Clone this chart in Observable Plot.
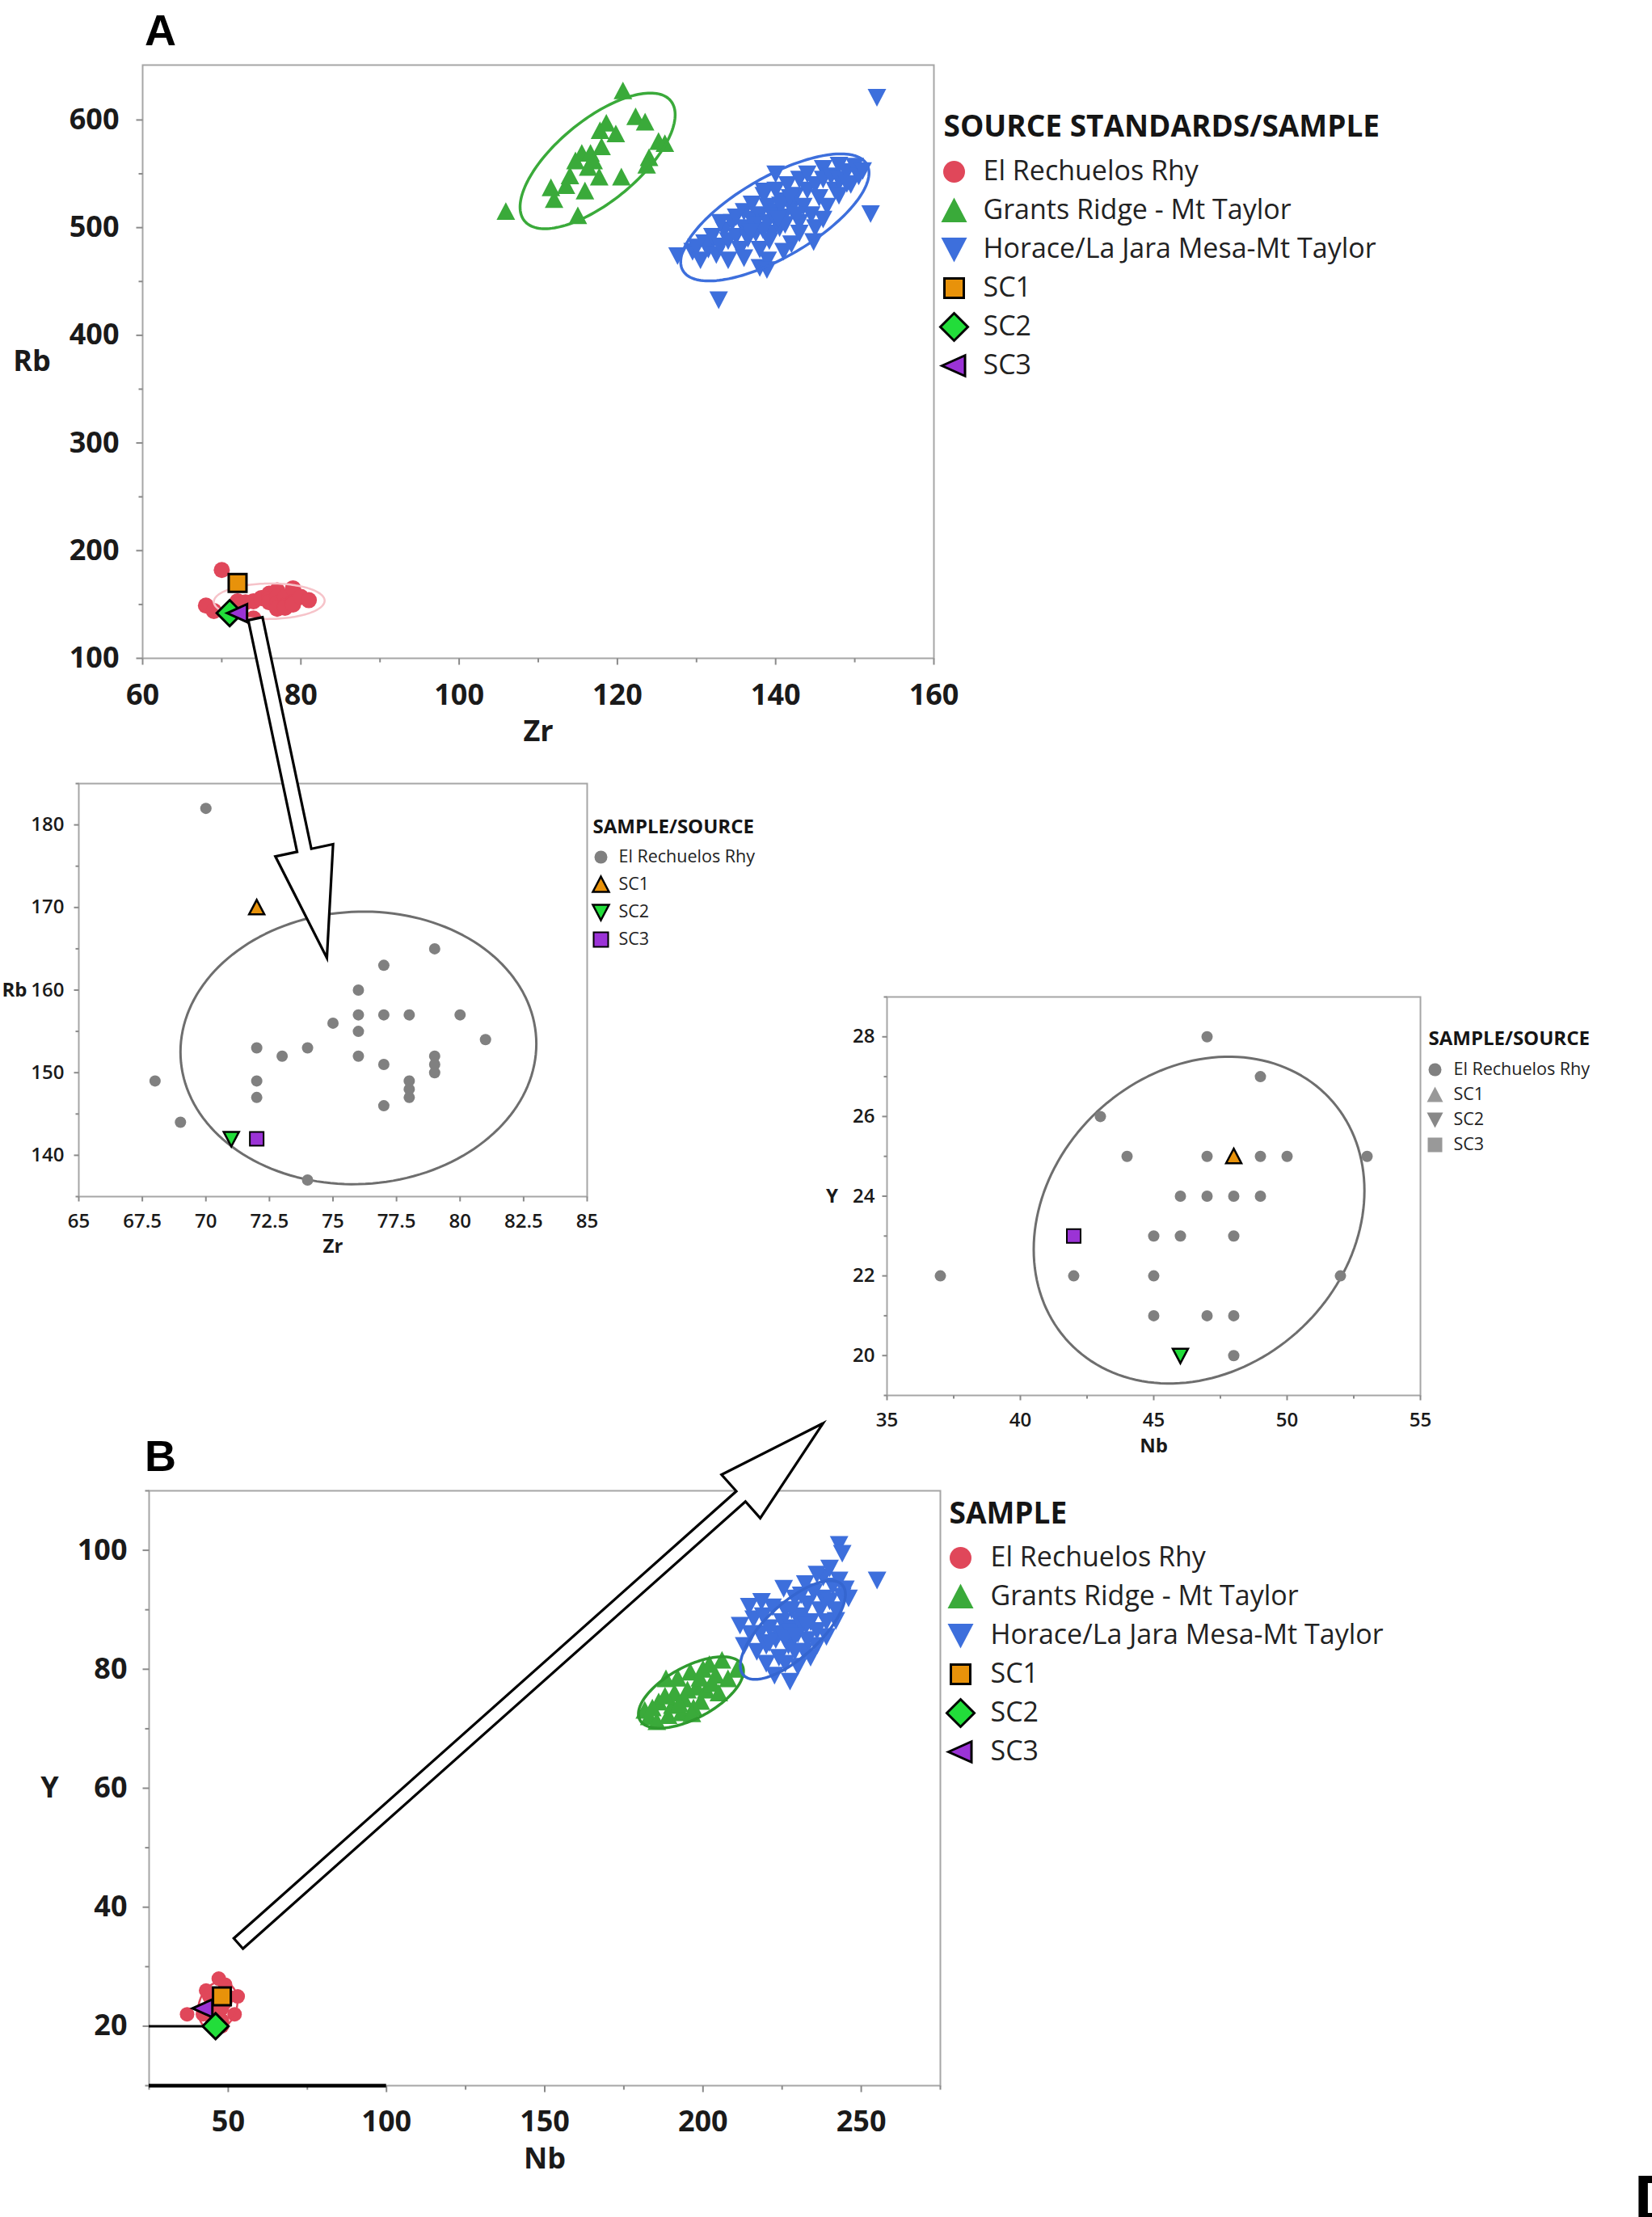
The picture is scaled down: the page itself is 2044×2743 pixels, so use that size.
<!DOCTYPE html>
<html><head><meta charset="utf-8">
<script src="https://cdn.jsdelivr.net/npm/d3@7"></script>
<script src="https://cdn.jsdelivr.net/npm/@observablehq/plot@0.6"></script>
<style>
html,body{margin:0;padding:0;background:#fff;}
#page{position:relative;width:2044px;height:2743px;overflow:hidden;background:#fff;}
.abs{position:absolute;line-height:0;}
.abs svg{overflow:visible;}
.plabel{position:absolute;font-family:'Liberation Sans',Arial,sans-serif;font-weight:bold;line-height:1;color:#000;white-space:nowrap;}
</style></head><body><div id="page"></div>
<script>
// ---------------- DATA ----------------
// Panel A / inset 1 : Zr (ppm) vs Rb (ppm)
const erZrRb = [[70,182],[68,149],[69,144],[72,153],[72,149],[72,147],[73,152],[74,153],[75,156],[76,160],[76,157],[76,155],[76,152],[77,163],[77,157],[77,151],[77,146],[78,157],[78,149],[78,148],[78,147],[79,165],[79,152],[79,151],[79,150],[80,157],[81,154],[74,137]];
const grantsZrRb = [[105.9,515],[120.7,627],[122.3,603],[123.5,598],[117.8,590],[119.8,587],[115.5,569],[117,562],[114.7,562],[116.3,556],[117.7,547],[111.6,537],[112,526],[115.9,534],[115,511],[120.5,547],[124,565],[125.2,580],[126,578],[123.7,558],[113.5,539],[118.6,597],[116.6,569],[118,575],[114,548]];
const horaceZrRb = [[152.8,621],[152,513],[132.8,433],[127.6,474],[129.5,478],[130.5,470],[131,486],[131.5,480],[132,492],[132.5,475],[133,483],[133.5,498],[134,488],[134,470],[134.5,505],[135,492],[135.5,480],[136,500],[136,515],[136.5,490],[137,508],[137,522],[137.5,495],[138,512],[138,480],[138.5,530],[139,505],[139,520],[139.5,495],[140,515],[140,535],[140.5,500],[141,525],[141,510],[141.5,540],[142,518],[142,485],[142.5,530],[143,545],[143,505],[143.5,520],[144,535],[144,550],[144.5,512],[145,540],[145.5,528],[146,555],[146,545],[146.5,520],[147,548],[147.5,535],[148,558],[148,545],[149,552],[149.5,540],[150,557],[150.5,548],[151,553],[138,463],[139,470],[141,478],[143,495],[145,500],[135,510],[133,505],[146,508],[148,530],[140,550],[138.9,461],[144.8,487],[149,541],[138.5,534],[130,482],[136,472],[137.3,503],[139.7,511],[141.2,503],[138.4,498],[140.6,521],[142.7,512],[136.8,496],[139.2,488],[140.3,508],[141.8,528]];
const sc1ZrRb = [[72,170]];
const sc2ZrRb = [[71,142]];
const sc3ZrRb = [[72,142]];

// Panel B / inset 2 : Nb (ppm) vs Y (ppm)
const erNbY = [[47,28],[49,27],[43,26],[44,25],[47,25],[49,25],[50,25],[53,25],[46,24],[47,24],[48,24],[49,24],[45,23],[46,23],[48,23],[37,22],[42,22],[45,22],[52,22],[45,21],[47,21],[48,21],[48,20]];
const grantsNbY = [[181.6,73.1],[183,72],[185.4,71.2],[186,74.5],[188.3,78.4],[189,72.2],[190.3,73.9],[191,76],[192,78.5],[193.2,72.7],[194,75],[195.1,76.5],[196,79.5],[197,73.5],[198,77],[199.3,74.6],[200,80],[201,76.5],[202,80.8],[202.9,77.6],[204,79],[205,76],[206,81.5],[207.9,78.4],[210.8,80],[188,75.5],[192.5,74.2],[196.5,72.5],[184,73.5],[199,78.5]];
const horaceNbY = [[243,101],[244,99.5],[255,95],[227.5,78],[222.6,79],[211.7,87.4],[214.6,90.6],[218.5,91.4],[238,95.5],[232.3,94.4],[225.5,93.6],[244,92.3],[242,88.2],[236,84],[213,84],[215,86],[216,88.5],[217,83],[218,86],[219,89],[220,84],[221,87],[222,90.5],[223,85],[224,82],[225,88],[226,90],[227,84],[228,87],[229,92],[230,86],[231,89],[232,83],[233,91],[234,88],[235,93],[236,86.5],[237,90],[238,92],[239,88],[240,91.5],[241,94],[242,90],[243,95],[245,93.5],[246,92],[233,85],[226,81],[220,81],[230,80.5],[224,86],[228,90],[234,82],[229,83],[239,85.5],[221,84.5],[231,92.5],[236,96],[240,97],[227.6,86.3],[230.4,88.1],[225.8,85.2],[232.6,87.4],[229.1,85.6]];
const sc1NbY = [[48,25]];
const sc2NbY = [[46,20]];
const sc3NbY = [[42,23]];

// density ellipses: centre, half-extent in x and y, correlation
const ellA = {grants:{cx:117.5,cy:562,ax:9.8,ay:63,rho:0.68}, horace:{cx:139.9,cy:509.5,ax:11.9,ay:59,rho:0.7}, er:{cx:76,cy:153,ax:7,ay:16.5,rho:0.03}};
const ellB = {grants:{cx:196.2,cy:76.1,ax:16.6,ay:6,rho:0.6}, horace:{cx:228.4,cy:86.6,ax:16.6,ay:8.3,rho:0.72}, er:{cx:46.7,cy:23.4,ax:6.2,ay:4.1,rho:0.18}};

// axes
const aXTicks = [60,80,100,120,140,160], aXMinor = [70,90,110,130,150];
const aYTicks = [100,200,300,400,500,600], aYMinor = [150,250,350,450,550];
const i1XTicks = [65,67.5,70,72.5,75,77.5,80,82.5,85], i1XMinor = [];
const i1YTicks = [140,150,160,170,180], i1YMinor = [135,145,155,165,175,185];
const i2XTicks = [35,40,45,50,55], i2XMinor = [37.5,42.5,47.5,52.5];
const i2YTicks = [20,22,24,26,28], i2YMinor = [19,21,23,25,27,29];
const bXTicks = [50,100,150,200,250], bXMinor = [25,75,125,175,225,275];
const bYTicks = [20,40,60,80,100], bYMinor = [10,30,50,70,90,110];

const seriesNames = ["El Rechuelos Rhy","Grants Ridge - Mt Taylor","Horace/La Jara Mesa-Mt Taylor","SC1","SC2","SC3"];
const insetNames = ["El Rechuelos Rhy","SC1","SC2","SC3"];

// arrow annotations: tail in panel data, tip in inset data
const arrow1 = {tail:[74.25,136.8], tip:[74.76,163.9]};
const arrow2 = {tail:[53.2,33.9], tip:[32.6,18.3]};
// guide lines in panel B
const bGuides = [{x1:25,x2:44,y:20,w:3},{x1:25,x2:100,y:10,w:4.5}];

// ---------------- STYLE ----------------
const FONT = "'Open Sans', 'Noto Sans', sans-serif";
const RED="#e0475a", GREEN="#3aaa3a", BLUE="#3d6fdc", ORANGE="#e8920a", LGREEN="#22dd3a", PURPLE="#9b33d6", GRAY="#808080";
const FRAME_C="#a6a6a6", TICK_C="#8a8a8a";

const Rof = s => Math.sqrt(s/Math.PI);
const SYM = {
  circle:{draw(c,s){const r=Rof(s);c.moveTo(r,0);c.arc(0,0,r,0,2*Math.PI);c.closePath();}},
  square:{draw(c,s){const r=Rof(s);c.moveTo(-r,-r);c.lineTo(r,-r);c.lineTo(r,r);c.lineTo(-r,r);c.closePath();}},
  diamond:{draw(c,s){const r=Rof(s);c.moveTo(0,-r);c.lineTo(r,0);c.lineTo(0,r);c.lineTo(-r,0);c.closePath();}},
  triUp:{draw(c,s){const r=Rof(s);c.moveTo(0,-r);c.lineTo(r,0.9*r);c.lineTo(-r,0.9*r);c.closePath();}},
  triDown:{draw(c,s){const r=Rof(s);c.moveTo(0,r);c.lineTo(r,-0.9*r);c.lineTo(-r,-0.9*r);c.closePath();}},
  triLeft:{draw(c,s){const r=Rof(s);c.moveTo(-r,0);c.lineTo(0.9*r,-0.85*r);c.lineTo(0.9*r,0.85*r);c.closePath();}},
  tickDown:{draw(c,s){const r=Rof(s);c.moveTo(0,0);c.lineTo(0,r);}},
  tickLeft:{draw(c,s){const r=Rof(s);c.moveTo(0,0);c.lineTo(-r,0);}}
};

function ellipsePoints(e){
  const pts=[], n=160, s=Math.sqrt(1-e.rho*e.rho);
  for(let i=0;i<n;i++){const t=2*Math.PI*i/n;
    pts.push({x:e.cx+e.ax*Math.cos(t), y:e.cy+e.ay*(e.rho*Math.cos(t)+s*Math.sin(t))});}
  return pts;
}

const page = document.getElementById("page");
function place(el,left,top){const d=document.createElement("div");d.className="abs";d.style.left=left+"px";d.style.top=top+"px";d.appendChild(el);page.appendChild(d);return d;}
const baseStyle = {background:"transparent", maxWidth:"none", overflow:"visible", fontFamily:FONT};

function panel(cfg){
  const xd=cfg.xDomain, yd=cfg.yDomain;
  const tk = (vals,len,sym,isX)=>Plot.dot(vals,{x:isX?(d=>d):(()=>xd[0]), y:isX?(()=>yd[0]):(d=>d), symbol:sym, r:len, stroke:TICK_C, strokeWidth:2, fill:"none"});
  const marks=[
    Plot.frame({stroke:FRAME_C, strokeWidth:2}),
    tk(cfg.xMajor,cfg.tickLen,SYM.tickDown,true),
    tk(cfg.xMinor,cfg.minorLen,SYM.tickDown,true),
    tk(cfg.yMajor,cfg.tickLen,SYM.tickLeft,false),
    tk(cfg.yMinor,cfg.minorLen,SYM.tickLeft,false)
  ];
  for(const s of cfg.series){
    const o={x:d=>d[0], y:d=>d[1], symbol:s.symbol, r:s.r, fill:s.fill};
    if(s.stroke){o.stroke=s.stroke;o.strokeWidth=s.sw;o.strokeLinejoin="miter";}
    if(s.before) marks.push(...s.before);
    marks.push(Plot.dot(s.data,o));
    if(s.after) marks.push(...s.after);
  }
  if(cfg.extra) marks.push(...cfg.extra);
  marks.push(Plot.text([cfg.xLabel],{frameAnchor:"bottom", dy:cfg.xLabelDy, text:d=>d, fontSize:cfg.labelFont, fontWeight:"bold", lineAnchor:"middle", textAnchor:"middle", fill:"#1a1a1a"}));
  marks.push(Plot.text([cfg.yLabel],{frameAnchor:"left", dx:cfg.yLabelDx, text:d=>d, fontSize:cfg.labelFont, fontWeight:"bold", lineAnchor:"middle", textAnchor:cfg.yLabelAnchor||"middle", fill:"#1a1a1a"}));
  return Plot.plot({
    width:cfg.width, height:cfg.height,
    marginLeft:cfg.m[0], marginRight:cfg.m[1], marginTop:cfg.m[2], marginBottom:cfg.m[3],
    x:{domain:xd, ticks:cfg.xMajor, tickSize:0, tickPadding:cfg.xPad, tickFormat:d=>String(d), label:null},
    y:{domain:yd, ticks:cfg.yMajor, tickSize:0, tickPadding:cfg.yPad, tickFormat:d=>String(d), label:null},
    style:{...baseStyle, fontSize:cfg.tickFont+"px", fontWeight:cfg.tickWeight, color:"#1a1a1a"},
    marks
  });
}

function ellMark(e,color,w){return Plot.line(ellipsePoints(e),{x:"x",y:"y",curve:"linear-closed",stroke:color,strokeWidth:w});}

function legend(cfg){
  const labels=cfg.items.map(d=>d.label);
  const marks=[Plot.text([cfg.title],{frameAnchor:"top-left", dx:cfg.titleX, dy:cfg.titleY, text:d=>d, fontSize:cfg.titleSize, fontWeight:"bold", lineAnchor:"middle", textAnchor:"start", fill:"#151515"})];
  for(const it of cfg.items){
    const o={x:()=>0, y:d=>d, symbol:it.symbol, r:it.r, fill:it.fill};
    if(it.stroke){o.stroke=it.stroke;o.strokeWidth=it.sw;o.strokeLinejoin="miter";}
    marks.push(Plot.dot([it.label],o));
  }
  marks.push(Plot.text(labels,{x:()=>1, y:d=>d, text:d=>d, fontSize:cfg.fontSize, textAnchor:"start", lineAnchor:"middle", fill:"#222"}));
  return Plot.plot({width:cfg.width, height:cfg.height, margin:0,
    x:{domain:[0,1], range:[cfg.markerX,cfg.textX], axis:null},
    y:{type:"point", domain:labels, range:[cfg.firstY,cfg.lastY], padding:0, axis:null},
    style:{...baseStyle}, marks});
}

// ---------------- PANEL A ----------------
const posA=[0,0];
const plotA = panel({width:1160,height:940,m:[176,5,80,126], xDomain:[60,160], yDomain:[100,651],
  xMajor:aXTicks,xMinor:aXMinor,yMajor:aYTicks,yMinor:aYMinor, tickLen:8, minorLen:5, xPad:32, yPad:29,
  tickFont:36, tickWeight:"bold", labelFont:36, xLabel:"Zr", yLabel:"Rb", xLabelDy:91, yLabelDx:-137,
  series:[
    {data:erZrRb, symbol:SYM.circle, r:10, fill:RED, after:[ellMark(ellA.er,"#f6c3c9",2.5)]},
    {data:grantsZrRb, symbol:SYM.triUp, r:11.5, fill:GREEN, after:[ellMark(ellA.grants,GREEN,3.5)]},
    {data:horaceZrRb, symbol:SYM.triDown, r:11.5, fill:BLUE, after:[ellMark(ellA.horace,BLUE,3.5)]},
    {data:sc1ZrRb, symbol:SYM.square, r:11, fill:ORANGE, stroke:"#000", sw:3},
    {data:sc2ZrRb, symbol:SYM.diamond, r:16, fill:LGREEN, stroke:"#000", sw:3},
    {data:sc3ZrRb, symbol:SYM.triLeft, r:13, fill:PURPLE, stroke:"#000", sw:3}
  ]});
place(plotA,...posA);

const bigItems = ()=>[
  {label:seriesNames[0], symbol:SYM.circle, r:13.5, fill:RED},
  {label:seriesNames[1], symbol:SYM.triUp, r:16, fill:GREEN},
  {label:seriesNames[2], symbol:SYM.triDown, r:16, fill:BLUE},
  {label:seriesNames[3], symbol:SYM.square, r:12, fill:ORANGE, stroke:"#000", sw:3},
  {label:seriesNames[4], symbol:SYM.diamond, r:17, fill:LGREEN, stroke:"#000", sw:3},
  {label:seriesNames[5], symbol:SYM.triLeft, r:15, fill:PURPLE, stroke:"#000", sw:3}
];
place(legend({title:"SOURCE STANDARDS/SAMPLE", titleSize:37, fontSize:34, width:889, height:520,
  titleX:12, titleY:157, markerX:25, textX:61, firstY:210, lastY:453, items:bigItems()}), 1155, 0);

// ---------------- INSET 1 ----------------
const posI1=[0,940];
const plotI1 = panel({width:730,height:640,m:[97,4,29,100], xDomain:[65,85], yDomain:[135,185],
  xMajor:i1XTicks,xMinor:i1XMinor,yMajor:i1YTicks,yMinor:i1YMinor, tickLen:6, minorLen:4, xPad:21, yPad:18,
  tickFont:24, tickWeight:"600", labelFont:24, xLabel:"Zr", yLabel:"Rb", xLabelDy:62, yLabelDx:-95, yLabelAnchor:"start",
  series:[
    {data:erZrRb, symbol:SYM.circle, r:7, fill:GRAY, before:[ellMark(ellA.er,"#6e6e6e",3)]},
    {data:sc1ZrRb, symbol:SYM.triUp, r:9.5, fill:ORANGE, stroke:"#000", sw:2.5},
    {data:sc2ZrRb, symbol:SYM.triDown, r:9.5, fill:LGREEN, stroke:"#000", sw:2.5},
    {data:sc3ZrRb, symbol:SYM.square, r:8.5, fill:PURPLE, stroke:"#000", sw:2}
  ]});
place(plotI1,...posI1);
place(legend({title:"SAMPLE/SOURCE", titleSize:24, fontSize:21.5, width:320, height:200,
  titleX:7, titleY:33, markerX:17, textX:39, firstY:70, lastY:172, items:[
    {label:insetNames[0], symbol:SYM.circle, r:8, fill:GRAY},
    {label:insetNames[1], symbol:SYM.triUp, r:10, fill:ORANGE, stroke:"#000", sw:2.5},
    {label:insetNames[2], symbol:SYM.triDown, r:10, fill:LGREEN, stroke:"#000", sw:2.5},
    {label:insetNames[3], symbol:SYM.square, r:9, fill:PURPLE, stroke:"#000", sw:2}
  ]}), 726, 990);

// ---------------- INSET 2 ----------------
const posI2=[980,1200];
const plotI2 = panel({width:780,height:620,m:[117,3,33,94], xDomain:[35,55], yDomain:[19,29],
  xMajor:i2XTicks,xMinor:i2XMinor,yMajor:i2YTicks,yMinor:i2YMinor, tickLen:6, minorLen:4, xPad:21, yPad:15,
  tickFont:24, tickWeight:"600", labelFont:24, xLabel:"Nb", yLabel:"Y", xLabelDy:63, yLabelDx:-68,
  series:[
    {data:erNbY, symbol:SYM.circle, r:7, fill:GRAY, before:[ellMark(ellB.er,"#6e6e6e",3)]},
    {data:sc1NbY, symbol:SYM.triUp, r:9.5, fill:ORANGE, stroke:"#000", sw:2.5},
    {data:sc2NbY, symbol:SYM.triDown, r:9.5, fill:LGREEN, stroke:"#000", sw:2.5},
    {data:sc3NbY, symbol:SYM.square, r:8.5, fill:PURPLE, stroke:"#000", sw:2}
  ]});
place(plotI2,...posI2);
place(legend({title:"SAMPLE/SOURCE", titleSize:24, fontSize:21.5, width:287, height:180,
  titleX:10, titleY:25, markerX:18, textX:41, firstY:62, lastY:157, items:[
    {label:insetNames[0], symbol:SYM.circle, r:8, fill:GRAY},
    {label:insetNames[1], symbol:SYM.triUp, r:10, fill:"#999"},
    {label:insetNames[2], symbol:SYM.triDown, r:10, fill:"#888"},
    {label:insetNames[3], symbol:SYM.square, r:9, fill:"#999"}
  ]}), 1757, 1260);

// ---------------- PANEL B ----------------
const posB=[0,1760];
const plotB = panel({width:1170,height:983,m:[184,7,84,163], xDomain:[25,275], yDomain:[10,110],
  xMajor:bXTicks,xMinor:bXMinor,yMajor:bYTicks,yMinor:bYMinor, tickLen:8, minorLen:5, xPad:31, yPad:27,
  tickFont:36, tickWeight:"bold", labelFont:36, xLabel:"Nb", yLabel:"Y", xLabelDy:91, yLabelDx:-123,
  series:[
    {data:erNbY, symbol:SYM.circle, r:9, fill:RED, after:[ellMark(ellB.er,RED,2.5)]},
    {data:grantsNbY, symbol:SYM.triUp, r:11.5, fill:GREEN, after:[ellMark(ellB.grants,"#2f9a2f",3.5)]},
    {data:horaceNbY, symbol:SYM.triDown, r:11.5, fill:BLUE, after:[ellMark(ellB.horace,"#3566d0",3.5)]},
    {data:sc1NbY, symbol:SYM.square, r:11, fill:ORANGE, stroke:"#000", sw:3, before:[Plot.ruleY(bGuides,{y:"y",x1:"x1",x2:"x2",strokeWidth:d=>d.w,stroke:"#000"})]},
    {data:sc3NbY, symbol:SYM.triLeft, r:13, fill:PURPLE, stroke:"#000", sw:3},
    {data:sc2NbY, symbol:SYM.diamond, r:16, fill:LGREEN, stroke:"#000", sw:3}
  ]});
place(plotB,...posB);
place(legend({title:"SAMPLE", titleSize:37, fontSize:34, width:881, height:420,
  titleX:11, titleY:73, markerX:25, textX:62, firstY:125, lastY:368, items:bigItems()}), 1163, 1800);

// ---------------- ARROWS (overlay) ----------------
function toPage(plot,pos,v){
  const sx=plot.scale("x"), sy=plot.scale("y");
  const ap=(s,t)=> s.apply ? s.apply(t) : s.range[0]+(t-s.domain[0])/(s.domain[1]-s.domain[0])*(s.range[1]-s.range[0]);
  return [pos[0]+ap(sx,v[0]), pos[1]+ap(sy,v[1])];
}
function arrowPolygon(id,T,P,w,h,L){
  const dx=P[0]-T[0], dy=P[1]-T[1], len=Math.hypot(dx,dy), ux=dx/len, uy=dy/len, nx=-uy, ny=ux;
  const B=[P[0]-L*ux, P[1]-L*uy];
  return [[T[0]+w*nx,T[1]+w*ny],[B[0]+w*nx,B[1]+w*ny],[B[0]+h*nx,B[1]+h*ny],P,[B[0]-h*nx,B[1]-h*ny],[B[0]-w*nx,B[1]-w*ny],[T[0]-w*nx,T[1]-w*ny]].map(p=>({id,x:p[0],y:p[1]}));
}
const a1 = arrowPolygon("a1", toPage(plotA,posA,arrow1.tail), toPage(plotI1,posI1,arrow1.tip), 9, 36.5, 136);
const a2 = arrowPolygon("a2", toPage(plotB,posB,arrow2.tail), toPage(plotI2,posI2,arrow2.tip), 8.5, 36, 136);
const overlay = Plot.plot({width:2044,height:2743,margin:0,
  x:{domain:[0,2044],range:[0,2044],axis:null}, y:{domain:[0,2743],range:[0,2743],axis:null},
  style:{...baseStyle, pointerEvents:"none"},
  marks:[Plot.line([...a1,...a2],{x:"x",y:"y",z:"id",curve:"linear-closed",fill:"white",stroke:"#000",strokeWidth:3.2,strokeLinejoin:"miter",strokeMiterlimit:10})]});
place(overlay,0,0);

// ---------------- PANEL LETTERS ----------------
function letter(t,left,top,size){const d=document.createElement("div");d.className="plabel";d.textContent=t;d.style.left=left+"px";d.style.top=top+"px";d.style.fontSize=size+"px";page.appendChild(d);}
letter("A",179,10,54);
letter("B",179,1774,54);
letter("D",2022,2680,80);
</script></body></html>
